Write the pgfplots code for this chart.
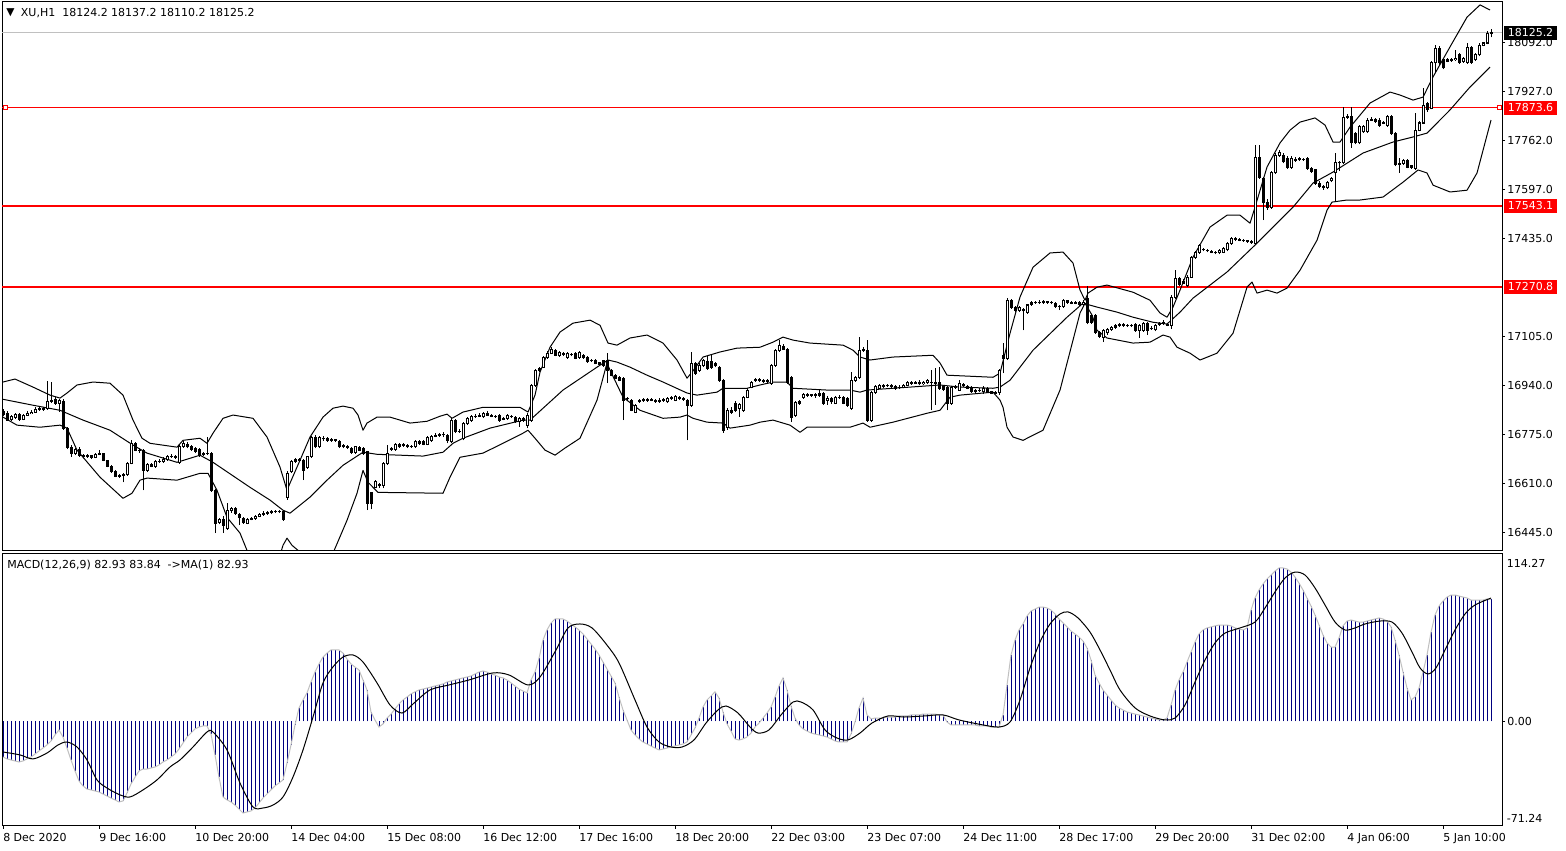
\documentclass[border=0pt]{standalone}
\usepackage{pgfplots}
\pgfplotsset{compat=1.18}
\usepackage{pgfplotstable}
\usepackage{fontspec}
\setmainfont{DejaVu Sans}
\definecolor{navyc}{RGB}{0,0,128}
\definecolor{silverc}{RGB}{192,192,192}
\definecolor{mtred}{RGB}{255,0,0}
\newcommand\tickfont{\fontsize{8.25}{10}\selectfont}

\pgfplotstableread{
i o h l c
0 16853 16860 16838 16843
1 16846 16853 16820 16823
2 16826 16840 16820 16836
3 16833 16848 16828 16843
4 16843 16848 16820 16825
5 16826 16845 16822 16840
6 16840 16852 16838 16845
7 16845 16856 16842 16850
8 16850 16866 16847 16860
9 16860 16868 16855 16862
10 16862 16868 16855 16860
11 16862 16953 16858 16885
12 16885 16950 16880 16890
13 16893 16900 16875 16880
14 16880 16893 16850 16888
15 16887 16893 16790 16796
16 16796 16800 16725 16732
17 16732 16740 16700 16712
18 16712 16730 16705 16725
19 16725 16732 16700 16705
20 16705 16710 16695 16700
21 16700 16708 16696 16703
22 16703 16706 16692 16698
23 16698 16712 16694 16708
24 16708 16722 16704 16712
25 16710 16713 16684 16688
26 16688 16690 16664 16668
27 16668 16672 16646 16650
28 16650 16654 16630 16634
29 16634 16642 16628 16638
30 16638 16645 16614 16640
31 16640 16682 16636 16678
32 16678 16755 16674 16745
33 16745 16750 16718 16722
34 16722 16728 16712 16722
35 16722 16726 16587 16654
36 16654 16680 16648 16675
37 16675 16680 16664 16668
38 16668 16690 16662 16685
39 16685 16692 16678 16684
40 16684 16698 16680 16692
41 16690 16706 16686 16702
42 16702 16708 16695 16700
43 16700 16704 16692 16698
44 16680 16740 16676 16735
45 16735 16752 16730 16745
46 16742 16748 16728 16733
47 16735 16740 16720 16725
48 16728 16732 16712 16718
49 16725 16728 16700 16705
50 16712 16716 16703 16707
51 16710 16765 16705 16712
52 16712 16716 16582 16587
53 16587 16590 16443 16476
54 16480 16495 16472 16488
55 16490 16500 16443 16470
56 16460 16545 16455 16520
57 16520 16530 16512 16525
58 16525 16530 16505 16510
59 16505 16512 16470 16495
60 16493 16496 16474 16478
61 16476 16494 16472 16490
62 16490 16497 16486 16492
63 16492 16504 16488 16500
64 16500 16510 16496 16506
65 16506 16516 16502 16510
66 16510 16518 16505 16512
67 16512 16522 16507 16515
68 16515 16522 16510 16517
69 16517 16522 16510 16515
70 16517 16520 16484 16488
71 16564 16652 16556 16645
72 16649 16690 16645 16683
73 16685 16695 16680 16690
74 16690 16695 16683 16688
75 16688 16692 16621 16654
76 16665 16703 16660 16699
77 16699 16770 16695 16766
78 16766 16772 16728 16733
79 16733 16770 16728 16766
80 16762 16768 16754 16760
81 16760 16765 16750 16755
82 16756 16762 16750 16757
83 16757 16760 16749 16755
84 16750 16755 16729 16733
85 16738 16742 16728 16733
86 16733 16738 16727 16732
87 16727 16732 16710 16715
88 16715 16737 16710 16733
89 16730 16736 16718 16722
90 16727 16732 16707 16712
91 16716 16720 16520 16543
92 16578 16582 16523 16543
93 16598 16620 16593 16615
94 16602 16610 16596 16605
95 16604 16682 16593 16677
96 16677 16739 16672 16711
97 16725 16733 16720 16727
98 16725 16745 16720 16740
99 16740 16745 16730 16733
100 16738 16746 16734 16741
101 16737 16742 16729 16733
102 16733 16740 16729 16735
103 16733 16755 16729 16750
104 16750 16756 16740 16745
105 16750 16756 16738 16742
106 16742 16770 16738 16766
107 16755 16772 16750 16768
108 16768 16778 16765 16772
109 16772 16778 16766 16773
110 16773 16783 16765 16776
111 16770 16775 16745 16755
112 16750 16830 16745 16823
113 16823 16828 16779 16784
114 16786 16792 16780 16786
115 16760 16815 16755 16811
116 16811 16832 16806 16828
117 16823 16840 16818 16834
118 16834 16842 16830 16836
119 16836 16846 16833 16840
120 16834 16850 16830 16846
121 16846 16852 16836 16840
122 16838 16842 16832 16836
123 16836 16840 16830 16834
124 16840 16845 16818 16823
125 16826 16834 16822 16829
126 16829 16844 16825 16840
127 16836 16840 16830 16835
128 16833 16838 16814 16818
129 16818 16834 16801 16829
130 16827 16832 16818 16823
131 16806 16846 16795 16840
132 16823 16945 16818 16940
133 16940 16996 16935 16991
134 16991 17000 16985 16995
135 17001 17040 16998 17035
136 17035 17055 17030 17048
137 17048 17068 17045 17060
138 17058 17062 17037 17041
139 17041 17055 17036 17050
140 17048 17052 17038 17043
141 17035 17052 17030 17048
142 17043 17048 17037 17042
143 17048 17052 17027 17031
144 17035 17055 17030 17051
145 17041 17046 17029 17033
146 17033 17037 17016 17020
147 17022 17030 17018 17025
148 17025 17030 17010 17014
149 17016 17020 17005 17010
150 17022 17026 17003 17008
151 17025 17048 16947 16991
152 16991 16996 16970 16974
153 16974 16978 16960 16964
154 16966 16970 16953 16957
155 16964 16968 16823 16890
156 16894 16902 16886 16897
157 16890 16895 16852 16856
158 16850 16878 16846 16873
159 16885 16893 16882 16888
160 16888 16896 16884 16891
161 16891 16897 16885 16890
162 16890 16898 16886 16893
163 16888 16893 16882 16886
164 16886 16896 16882 16890
165 16892 16897 16884 16889
166 16884 16900 16880 16896
167 16895 16903 16890 16898
168 16890 16908 16886 16903
169 16899 16905 16890 16897
170 16895 16900 16888 16893
171 16890 16895 16755 16873
172 16873 17051 16868 17014
173 17014 17020 16976 16981
174 16991 17015 16986 17008
175 17008 17030 17003 17025
176 17020 17040 16993 16998
177 17020 17045 16996 17001
178 17014 17020 17000 17005
179 17001 17006 16952 16957
180 16957 16962 16780 16789
181 16799 16862 16790 16856
182 16856 16866 16845 16850
183 16880 16886 16850 16856
184 16863 16880 16835 16876
185 16856 16905 16850 16900
186 16900 16930 16896 16924
187 16934 16956 16930 16951
188 16957 16966 16952 16960
189 16960 16965 16950 16957
190 16957 16962 16948 16952
191 16952 16960 16946 16955
192 16947 17012 16942 17008
193 17008 17062 17003 17058
194 17058 17092 17052 17075
195 17070 17078 17058 17062
196 17062 17066 16946 16951
197 16967 16972 16816 16833
198 16840 16888 16835 16883
199 16885 16890 16875 16880
200 16900 16915 16895 16910
201 16907 16913 16902 16908
202 16908 16912 16900 16905
203 16905 16914 16898 16908
204 16907 16925 16902 16912
205 16914 16918 16875 16880
206 16890 16903 16875 16897
207 16897 16902 16878 16884
208 16880 16905 16876 16900
209 16900 16906 16894 16898
210 16900 16905 16876 16880
211 16897 16902 16868 16873
212 16863 16984 16858 16957
213 16957 16972 16952 16967
214 16967 17102 16962 17058
215 17058 17068 17052 17062
216 17058 17092 16818 16823
217 16823 16922 16816 16917
218 16917 16940 16912 16935
219 16930 16943 16926 16938
220 16936 16943 16932 16938
221 16938 16945 16934 16940
222 16940 16944 16932 16937
223 16936 16940 16925 16930
224 16932 16940 16928 16934
225 16934 16945 16930 16940
226 16940 16953 16936 16948
227 16948 16953 16942 16947
228 16947 16956 16944 16950
229 16950 16957 16940 16945
230 16945 16956 16940 16950
231 16950 16960 16946 16955
232 16951 16991 16856 16950
233 16950 16998 16875 16947
234 16951 17001 16925 16930
235 16935 16940 16920 16926
236 16934 16938 16856 16880
237 16880 16939 16875 16934
238 16934 16940 16928 16936
239 16924 16957 16920 16947
240 16942 16948 16934 16938
241 16936 16940 16926 16930
242 16932 16936 16915 16920
243 16922 16928 16912 16918
244 16922 16930 16918 16924
245 16918 16936 16912 16930
246 16930 16935 16914 16918
247 16918 16922 16910 16914
248 16914 16921 16910 16916
249 16917 16995 16908 16991
250 17041 17082 16981 17031
251 17031 17232 17025 17226
252 17226 17230 17198 17203
253 17203 17208 17188 17193
254 17193 17206 17186 17200
255 17196 17200 17125 17190
256 17186 17215 17180 17210
257 17213 17224 17208 17218
258 17218 17225 17214 17220
259 17220 17226 17213 17218
260 17218 17226 17214 17221
261 17221 17225 17214 17219
262 17219 17224 17212 17218
263 17216 17220 17200 17205
264 17205 17210 17193 17206
265 17205 17230 17200 17226
266 17224 17228 17214 17218
267 17218 17223 17212 17216
268 17216 17222 17212 17218
269 17218 17222 17208 17212
270 17212 17226 17205 17220
271 17233 17273 17145 17152
272 17176 17180 17147 17152
273 17176 17180 17114 17119
274 17119 17124 17100 17105
275 17102 17130 17085 17125
276 17116 17132 17110 17128
277 17128 17140 17124 17135
278 17135 17145 17130 17140
279 17140 17148 17136 17143
280 17143 17148 17137 17142
281 17142 17146 17136 17140
282 17140 17147 17136 17142
283 17145 17150 17120 17125
284 17125 17145 17100 17140
285 17125 17152 17120 17148
286 17148 17152 17110 17125
287 17130 17138 17126 17132
288 17126 17145 17121 17140
289 17145 17153 17140 17148
290 17150 17160 17144 17152
291 17145 17150 17138 17142
292 17142 17242 17130 17236
293 17236 17327 17230 17300
294 17300 17305 17275 17280
295 17290 17298 17280 17284
296 17277 17310 17272 17304
297 17304 17376 17300 17371
298 17371 17393 17366 17388
299 17388 17416 17383 17411
300 17395 17400 17390 17395
301 17393 17398 17387 17392
302 17390 17394 17384 17388
303 17388 17390 17380 17385
304 17385 17397 17380 17392
305 17388 17405 17384 17400
306 17395 17423 17390 17418
307 17418 17440 17413 17435
308 17435 17440 17425 17430
309 17430 17435 17424 17428
310 17428 17432 17422 17426
311 17426 17430 17420 17425
312 17424 17430 17416 17420
313 17418 17748 17412 17707
314 17707 17748 17635 17640
315 17637 17642 17495 17556
316 17556 17565 17530 17539
317 17539 17660 17534 17654
318 17654 17720 17650 17714
319 17714 17730 17708 17722
320 17714 17720 17686 17691
321 17704 17710 17668 17674
322 17674 17710 17668 17704
323 17700 17706 17692 17697
324 17698 17708 17694 17702
325 17700 17705 17694 17699
326 17704 17708 17665 17670
327 17668 17673 17655 17660
328 17664 17668 17614 17620
329 17620 17626 17603 17608
330 17610 17615 17598 17605
331 17605 17628 17600 17623
332 17627 17642 17622 17637
333 17654 17720 17556 17690
334 17690 17695 17660 17688
335 17688 17876 17684 17842
336 17842 17852 17836 17845
337 17845 17876 17738 17755
338 17788 17792 17750 17755
339 17755 17814 17750 17809
340 17792 17814 17788 17809
341 17792 17838 17788 17832
342 17832 17842 17828 17834
343 17834 17840 17822 17828
344 17832 17838 17810 17815
345 17822 17830 17818 17825
346 17815 17850 17810 17845
347 17845 17850 17783 17788
348 17788 17792 17676 17681
349 17686 17704 17654 17684
350 17686 17702 17680 17697
351 17697 17702 17669 17674
352 17678 17682 17668 17674
353 17670 17855 17665 17798
354 17798 17828 17794 17822
355 17822 17939 17818 17882
356 17889 17894 17860 17866
357 17872 18030 17868 18024
358 18024 18084 17990 18074
359 18074 18080 18018 18024
360 18034 18040 18002 18007
361 18034 18040 18026 18030
362 18032 18040 18028 18035
363 18034 18067 18030 18040
364 18051 18056 18022 18027
365 18030 18045 18025 18040
366 18027 18091 18022 18077
367 18077 18082 18022 18027
368 18034 18056 18030 18051
369 18051 18090 18046 18084
370 18084 18096 18080 18091
371 18091 18130 18086 18124
372 18124.2 18137.2 18110.2 18125.2
}\candles

\pgfplotstableread{
i m
0 -24.3
1 -25.6
2 -26.3
3 -27.0
4 -27.7
5 -27.0
6 -25.6
7 -24.3
8 -22.3
9 -20.2
10 -18.2
11 -16.1
12 -13.4
13 -9.3
14 -5.9
15 -10.7
16 -18.2
17 -26.3
18 -33.8
19 -40.6
20 -44.0
21 -46.1
22 -46.7
23 -47.4
24 -48.1
25 -49.5
26 -50.8
27 -52.2
28 -53.5
29 -54.9
30 -54.2
31 -48.8
32 -42.7
33 -38.1
34 -33.8
35 -32.5
36 -32.5
37 -31.8
38 -31.1
39 -29.7
40 -27.7
41 -26.3
42 -24.3
43 -22.3
44 -18.9
45 -14.8
46 -10.7
47 -8.0
48 -5.2
49 -3.9
50 -3.2
51 -3.2
52 -8.7
53 -22.9
54 -38.1
55 -51.5
56 -53.5
57 -54.9
58 -57.0
59 -59.7
60 -62.4
61 -61.7
62 -61.0
63 -59.0
64 -55.6
65 -52.2
66 -49.5
67 -46.7
68 -44.0
69 -42.0
70 -39.9
71 -28.4
72 -16.1
73 -2.5
74 9.1
75 14.5
76 19.3
77 26.7
78 33.5
79 39.0
80 43.7
81 46.4
82 48.5
83 48.5
84 48.5
85 46.4
86 42.4
87 39.0
88 36.9
89 34.9
90 28.1
91 21.3
92 6.3
93 0.9
94 -3.9
95 -1.8
96 2.2
97 4.9
98 8.4
99 11.8
100 14.5
101 16.5
102 18.6
103 20.0
104 21.3
105 21.9
106 22.6
107 23.3
108 24.0
109 24.7
110 25.4
111 26.7
112 27.4
113 28.1
114 28.8
115 29.5
116 30.1
117 30.8
118 32.2
119 33.5
120 34.2
121 33.5
122 32.2
123 31.5
124 30.1
125 29.5
126 28.1
127 26.1
128 24.0
129 21.9
130 20.6
131 19.3
132 28.1
133 33.5
134 42.9
135 55.3
136 62.1
137 66.9
138 69.6
139 69.6
140 69.6
141 68.2
142 66.2
143 64.2
144 62.1
145 59.4
146 56.0
147 52.6
148 49.2
149 45.1
150 40.3
151 35.6
152 30.8
153 26.1
154 16.5
155 7.7
156 0.9
157 -5.9
158 -9.3
159 -12.0
160 -14.1
161 -15.5
162 -16.8
163 -18.2
164 -19.5
165 -18.9
166 -18.2
167 -17.5
168 -16.8
169 -16.1
170 -15.5
171 -14.1
172 -9.3
173 -4.6
174 2.2
175 9.7
176 14.5
177 17.2
178 20.0
179 15.8
180 6.3
181 -1.8
182 -6.6
183 -12.0
184 -12.8
185 -12.0
186 -10.7
187 -8.0
188 -3.9
189 -1.2
190 2.2
191 5.6
192 9.7
193 16.5
194 24.0
195 29.5
196 21.3
197 10.4
198 2.2
199 -2.5
200 -5.2
201 -6.6
202 -8.0
203 -8.7
204 -9.3
205 -10.0
206 -10.7
207 -12.0
208 -13.4
209 -14.1
210 -14.1
211 -14.1
212 -8.7
213 -0.5
214 9.1
215 15.8
216 4.3
217 1.6
218 2.2
219 2.2
220 2.2
221 2.9
222 2.9
223 2.9
224 3.6
225 3.6
226 3.6
227 4.3
228 4.3
229 4.3
230 4.9
231 4.9
232 4.9
233 4.9
234 4.3
235 4.3
236 -0.5
237 -2.5
238 -2.5
239 -2.5
240 -2.5
241 -2.5
242 -2.5
243 -2.5
244 -3.2
245 -3.2
246 -3.2
247 -3.9
248 -3.9
249 -3.9
250 4.3
251 24.7
252 45.1
253 55.3
254 62.1
255 66.2
256 71.6
257 75.0
258 76.3
259 77.7
260 77.7
261 77.1
262 75.7
263 73.0
264 69.6
265 66.9
266 64.2
267 61.4
268 59.4
269 57.3
270 54.6
271 49.9
272 41.7
273 31.5
274 26.1
275 21.3
276 17.9
277 14.5
278 11.1
279 9.1
280 7.7
281 6.3
282 5.6
283 4.9
284 4.3
285 3.6
286 2.9
287 2.2
288 1.6
289 0.9
290 0.9
291 2.2
292 11.1
293 21.3
294 28.1
295 33.5
296 40.3
297 47.1
298 53.9
299 59.4
300 62.1
301 63.5
302 64.2
303 64.9
304 65.5
305 65.5
306 65.5
307 64.9
308 63.5
309 62.8
310 62.1
311 63.5
312 75.7
313 83.9
314 89.3
315 93.4
316 96.8
317 99.5
318 102.2
319 104.3
320 104.3
321 103.6
322 101.5
323 98.1
324 94.0
325 89.3
326 83.9
327 78.4
328 72.3
329 65.5
330 58.7
331 53.3
332 50.5
333 50.5
334 56.7
335 64.9
336 68.2
337 68.9
338 68.2
339 67.5
340 67.5
341 68.2
342 68.9
343 69.6
344 70.3
345 69.6
346 68.2
347 64.2
348 55.3
349 45.1
350 33.5
351 22.6
352 14.5
353 16.5
354 22.6
355 33.5
356 45.1
357 60.7
358 72.3
359 78.4
360 81.8
361 84.5
362 85.9
363 85.9
364 85.2
365 84.5
366 83.9
367 82.5
368 82.5
369 82.5
370 82.5
371 83.2
372 82.93
}\macd

\pgfplotstableread{
x y
-0.25 17873.6
374.75 17873.6
}\lineA
\pgfplotstableread{
x y
-0.25 17543.1
374.75 17543.1
}\lineB
\pgfplotstableread{
x y
-0.25 17270.8
374.75 17270.8
}\lineC

\begin{document}
\begin{tikzpicture}
\path[use as bounding box, fill=white] (0,0) rectangle (1174.5pt,-637.5pt);

% ---------------- price panel ----------------
\begin{axis}[
  at={(1.5pt,-0.75pt)}, anchor=north west, scale only axis,
  width=1125pt, height=412.3pt,
  xmin=-0.25, xmax=374.75, ymin=16383.7, ymax=18232.2,
  axis line style={line width=0.75pt, black},
  xtick=\empty,
  ytick={16445,16610,16775,16940,17105,17435,17597,17762,17927,18092},
  yticklabels={16445.0,16610.0,16775.0,16940.0,17105.0,17435.0,17597.0,17762.0,17927.0,18092.0},
  ytick pos=right, yticklabel pos=right, tick align=outside,
  major tick length=2.25pt, tick style={line width=0.75pt, black},
  yticklabel style={font=\tickfont, anchor=west, inner sep=0pt, xshift=1.5pt},
  clip mode=individual,
]
% horizontal lines (drawn first)
\addplot[draw=mtred, line width=1pt, mark=none] table[x=x, y=y] {\lineA};
\addplot[draw=mtred, line width=1pt, mark=none] table[x=x, y=y] {\lineB};
\addplot[draw=mtred, line width=1pt, mark=none] table[x=x, y=y] {\lineC};
% current price line
\addplot[draw=silverc, line width=0.75pt, mark=none] coordinates {(-0.25,18125.2)(374.75,18125.2)};
% Bollinger bands
\addplot[black, line width=0.75pt, line join=round] coordinates {
(0,16951)(3,16961)(7.5,16934)(11.75,16907)(14.25,16897)(16,16914)(18.5,16941)(22.5,16951)(26.75,16947)(30,16907)(32.5,16823)(34.75,16762)(36.75,16745)(43.5,16732)(45,16755)(49.25,16762)(51,16745)(52.5,16779)(55,16829)(57.5,16840)(62.5,16829)(66,16766)(69.25,16665)(71,16587)(71.75,16611)(74.25,16688)(76.75,16766)(80,16833)(82.5,16863)(85,16870)(87.5,16863)(88.75,16840)(90,16789)(91,16813)(93.5,16833)(96.75,16833)(101.75,16813)(106,16819)(109.25,16836)(111,16843)(112.25,16829)(115,16850)(120,16866)(129.25,16866)(131.25,16850)(133,16907)(134.25,16984)(136.75,17068)(139.25,17119)(142.5,17149)(146.75,17159)(149.25,17142)(151.25,17082)(153.5,17075)(156.75,17099)(161,17109)(165,17082)(168.5,17025)(171,16964)(172.25,16984)(175,17035)(179.25,17052)(183.5,17065)(189.25,17068)(192.5,17085)(195,17102)(197.5,17092)(201.75,17082)(210,17075)(212.5,17058)(214.25,17035)(216.75,17025)(222.5,17035)(232.5,17041)(234.25,17015)(236,16974)(247.5,16967)(249.25,16981)(251.75,17115)(254.25,17237)(257.5,17337)(261.75,17385)(265,17388)(267.5,17351)(269.25,17260)(270.5,17226)(271.25,17250)(273.5,17270)(276,17277)(282.5,17253)(286.75,17226)(289.25,17183)(291,17169)(292.5,17203)(294.25,17260)(297.5,17371)(301.75,17472)(306,17512)(309.25,17512)(311.75,17485)(313,17539)(316,17674)(319.25,17755)(321.75,17798)(324.25,17825)(328,17839)(330.5,17815)(332.5,17758)(334.25,17758)(336.75,17808)(341.75,17889)(346.75,17926)(349.25,17916)(352.5,17899)(355,17909)(357.5,17977)(361.75,18078)(366,18178)(369.25,18219)(371.75,18202)
};
\addplot[black, line width=0.75pt, line join=round] coordinates {
(0,16893)(7.5,16873)(14.25,16856)(20,16823)(26.75,16789)(32.5,16739)(36,16712)(43.5,16681)(49.25,16705)(52.5,16681)(61.75,16597)(66.75,16554)(70,16520)(71.75,16510)(76.75,16564)(81,16621)(85,16671)(90,16715)(93.5,16708)(105,16702)(110,16715)(112.5,16745)(115,16762)(121.75,16796)(130,16823)(131.75,16823)(140,16924)(148.5,17001)(151.25,17025)(153.5,17018)(156.75,17001)(161,16974)(165,16951)(171,16914)(173.5,16907)(178.5,16917)(180,16930)(186,16930)(189.25,16941)(192.5,16951)(196,16951)(197.5,16930)(206,16924)(211.75,16924)(214.25,16917)(216,16924)(222.5,16930)(234.25,16941)(239.25,16934)(247.5,16930)(249.25,16934)(251.75,16957)(257.5,17058)(266,17169)(270,17216)(273.5,17203)(278.5,17186)(282.5,17169)(287.5,17152)(291,17146)(294.25,17186)(297.5,17233)(306,17321)(313.5,17418)(322.5,17539)(327.5,17620)(332.5,17657)(340,17721)(347.5,17758)(352.5,17775)(356,17788)(361.75,17866)(366.75,17943)(371.75,18010)
};
\addplot[black, line width=0.75pt, line join=round] coordinates {
(0,16833)(3.5,16806)(9.25,16799)(14.25,16806)(16,16796)(18.5,16722)(24.25,16631)(30,16560)(32.25,16577)(34.25,16621)(36,16628)(43.5,16621)(49.25,16644)(51.25,16644)(53.5,16587)(56,16496)(59.25,16443)(61,16385)(63,16335)(65.5,16301)(68.5,16335)(70,16402)(71,16426)(72.25,16402)(73.75,16385)(76.75,16285)(81.75,16352)(86,16486)(88.5,16577)(90,16654)(91.25,16614)(93.75,16580)(110,16577)(111.75,16631)(114.25,16698)(120,16712)(125,16745)(130,16779)(131.25,16789)(133,16762)(135.5,16722)(138,16705)(140.5,16729)(144.25,16762)(148.5,16890)(151,17015)(151.75,16991)(155,16900)(159.25,16856)(165,16829)(169.25,16833)(171,16840)(172.5,16829)(176,16816)(180,16813)(181.75,16796)(186.75,16806)(189.25,16816)(192.5,16823)(196.75,16806)(199.25,16782)(201,16799)(211.75,16799)(215,16813)(216.75,16799)(222.5,16816)(231,16846)(234.25,16856)(236.75,16900)(239.25,16907)(247.5,16917)(249.25,16890)(250,16866)(251,16799)(252.5,16766)(255,16755)(260,16789)(264.25,16924)(267.5,17092)(269.25,17183)(270.5,17216)(272.25,17176)(273.5,17125)(276,17099)(282.5,17082)(286.75,17085)(290,17109)(291.75,17102)(293.5,17068)(296.75,17048)(299.25,17025)(303.5,17048)(307.5,17115)(311,17270)(312.25,17287)(313.5,17250)(316,17260)(318.5,17250)(321,17267)(324.25,17327)(328.5,17428)(331,17529)(332.25,17556)(336,17563)(339.25,17563)(345,17573)(350,17623)(353.75,17664)(356,17654)(357.5,17613)(361.75,17590)(366,17596)(368.5,17654)(372,17832)
};
% wicks
\addplot[draw=none, mark=none, error bars/.cd, y dir=plus, y explicit, error mark=none,
  error bar style={line width=0.75pt, black}]
  table[x=i, y=l, y error plus expr={\thisrow{h}-\thisrow{l}}] {\candles};
% bodies (black)
\addplot[draw=none, mark=none, error bars/.cd, y dir=plus, y explicit, error mark=none,
  error bar style={line width=2.25pt, black}]
  table[x=i, y expr={min(\thisrow{o},\thisrow{c})-1.7}, y error plus expr={abs(\thisrow{c}-\thisrow{o})+3.4}] {\candles};
% bullish bodies (white inside)
\addplot[draw=none, mark=none, restrict expr to domain={\thisrow{c}-\thisrow{o}}{5:100000},
  error bars/.cd, y dir=plus, y explicit, error mark=none,
  error bar style={line width=0.75pt, white}]
  table[x=i, y expr={\thisrow{o}+1.7}, y error plus expr={\thisrow{c}-\thisrow{o}-3.4}] {\candles};
% anchor squares of the selected line
\addplot[draw=none, only marks, mark=square*, mark size=1.4pt, mark options={draw=mtred, fill=white, line width=0.6pt}]
  coordinates {(0.6,17873.6)(374.05,17873.6)};
% price labels
\node[fill=mtred, text=white, font=\tickfont, anchor=west, inner xsep=2.6pt, inner ysep=0pt, minimum height=10.5pt, xshift=1.5pt] at (axis cs:374.75,17873.6) {17873.6};
\node[fill=mtred, text=white, font=\tickfont, anchor=west, inner xsep=2.6pt, inner ysep=0pt, minimum height=10.5pt, xshift=1.5pt] at (axis cs:374.75,17543.1) {17543.1};
\node[fill=mtred, text=white, font=\tickfont, anchor=west, inner xsep=2.6pt, inner ysep=0pt, minimum height=10.5pt, xshift=1.5pt] at (axis cs:374.75,17270.8) {17270.8};
\node[fill=black, text=white, font=\tickfont, anchor=west, inner xsep=2.6pt, inner ysep=0pt, minimum height=10.5pt, xshift=1.5pt] at (axis cs:374.75,18125.2) {18125.2};
\end{axis}

% ---------------- MACD panel ----------------
\begin{axis}[
  at={(1.5pt,-414.98pt)}, anchor=north west, scale only axis,
  width=1125pt, height=204.5pt,
  xmin=-0.25, xmax=374.75, ymin=-71.24, ymax=114.27,
  axis line style={line width=0.75pt, black},
  xtick={0,24,...,360},
  xticklabels={8 Dec 2020,9 Dec 16:00,10 Dec 20:00,14 Dec 04:00,15 Dec 08:00,16 Dec 12:00,17 Dec 16:00,18 Dec 20:00,22 Dec 03:00,23 Dec 07:00,24 Dec 11:00,28 Dec 17:00,29 Dec 20:00,31 Dec 02:00,4 Jan 06:00,5 Jan 10:00},
  xtick pos=left, ytick pos=right, yticklabel pos=right,
  ytick={0}, yticklabels={0.00},
  tick align=outside, major tick length=2.25pt, tick style={line width=0.75pt, black},
  xticklabel style={font=\tickfont, anchor=north west, inner xsep=0pt, inner ysep=0pt, yshift=-3pt},
  yticklabel style={font=\tickfont, anchor=west, inner sep=0pt, xshift=1.5pt},
  clip mode=individual,
]
\addplot[ycomb, navyc, line width=0.75pt] table[x=i, y=m] {\macd};
\addplot[silverc, line width=0.75pt] table[x=i, y=m] {\macd};
\addplot[black, line width=0.75pt, smooth, tension=0.5] coordinates {
(0,-20.9)(4.25,-22.9)(7.5,-25.6)(11,-21.6)(13.75,-16.1)(16,-14.1)(18.5,-17.5)(21,-26.3)(23.5,-39.9)(26,-45.4)(29.25,-50.1)(31.75,-51.5)(35,-46.7)(38.5,-39.9)(41.75,-31.1)(44.25,-26.3)(47.5,-17.5)(51,-7.3)(52.5,-7.3)(56,-19.5)(59.25,-42.0)(62.5,-58.3)(65,-59.0)(67.5,-57.0)(70,-51.5)(72.5,-37.9)(75,-19.5)(77.5,2.9)(80,26.1)(82.5,37.0)(85,43.7)(87.5,45.1)(90,40.3)(93.5,26.1)(96.75,11.1)(99.75,5.6)(102.75,12.4)(106.75,21.3)(111.5,24.7)(116.5,28.1)(122.5,32.9)(126.5,31.5)(131.25,24.7)(134.25,30.1)(138.25,48.5)(141.25,63.5)(144.25,66.2)(147.25,63.5)(151,51.8)(154,39.7)(158,14.5)(161,-3.9)(164,-14.1)(167,-17.5)(169.75,-17.5)(172.75,-12.7)(175.75,-1.2)(178.75,7.7)(180.75,10.4)(183.75,5.6)(186.75,-3.9)(188.75,-8.0)(191.5,-5.9)(194.5,4.3)(197.5,13.1)(199.5,13.1)(202.5,7.7)(205.5,-5.9)(208.5,-11.4)(211.25,-12.7)(214.25,-8.0)(217.25,-1.2)(221.25,3.6)(225.25,2.9)(230.25,3.6)(235,4.3)(239,0.9)(245,-2.5)(249,-3.9)(251.75,-0.5)(254.25,14.5)(256.75,36.3)(259.25,54.0)(261.75,66.2)(264.25,73.0)(266.25,74.4)(268.75,70.3)(271.75,60.7)(274.25,48.5)(276.75,34.9)(279.25,21.3)(283,9.1)(286.75,3.6)(290.5,0.9)(293,2.2)(295.5,11.1)(298,26.7)(300.5,41.7)(303,53.3)(305.5,60.0)(309.25,63.5)(313,67.5)(315.5,77.1)(318,88.0)(320.5,97.5)(323,101.5)(325.5,99.5)(328,90.7)(330.5,79.1)(333,67.5)(335.5,62.1)(338,63.5)(340.5,66.2)(344.25,68.2)(347.25,67.5)(349.75,60.0)(352.25,47.1)(354.25,36.3)(356.25,32.2)(358.25,36.3)(360.5,48.5)(363,62.1)(365.5,73.0)(368,79.1)(372,83.84)
};
\node[font=\tickfont, anchor=north west, inner sep=0pt, xshift=3.5pt, yshift=-4pt] at (rel axis cs:1,1) {114.27};
\node[font=\tickfont, anchor=south west, inner sep=0pt, xshift=3.5pt, yshift=2.5pt] at (rel axis cs:1,0) {-71.24};
\end{axis}

% ---------------- header texts ----------------
\node[anchor=west, inner sep=0pt, font=\fontsize{8}{8}\selectfont] at (4.5pt,-9.75pt) {▼};
\node[anchor=west, inner sep=0pt, font=\tickfont] at (15.5pt,-9.75pt) {XU,H1\ \ 18124.2 18137.2 18110.2 18125.2};
\node[anchor=west, inner sep=0pt, font=\tickfont] at (5.25pt,-423.6pt) {MACD(12,26,9) 82.93 83.84\ \ ->MA(1) 82.93};
\end{tikzpicture}
\end{document}
